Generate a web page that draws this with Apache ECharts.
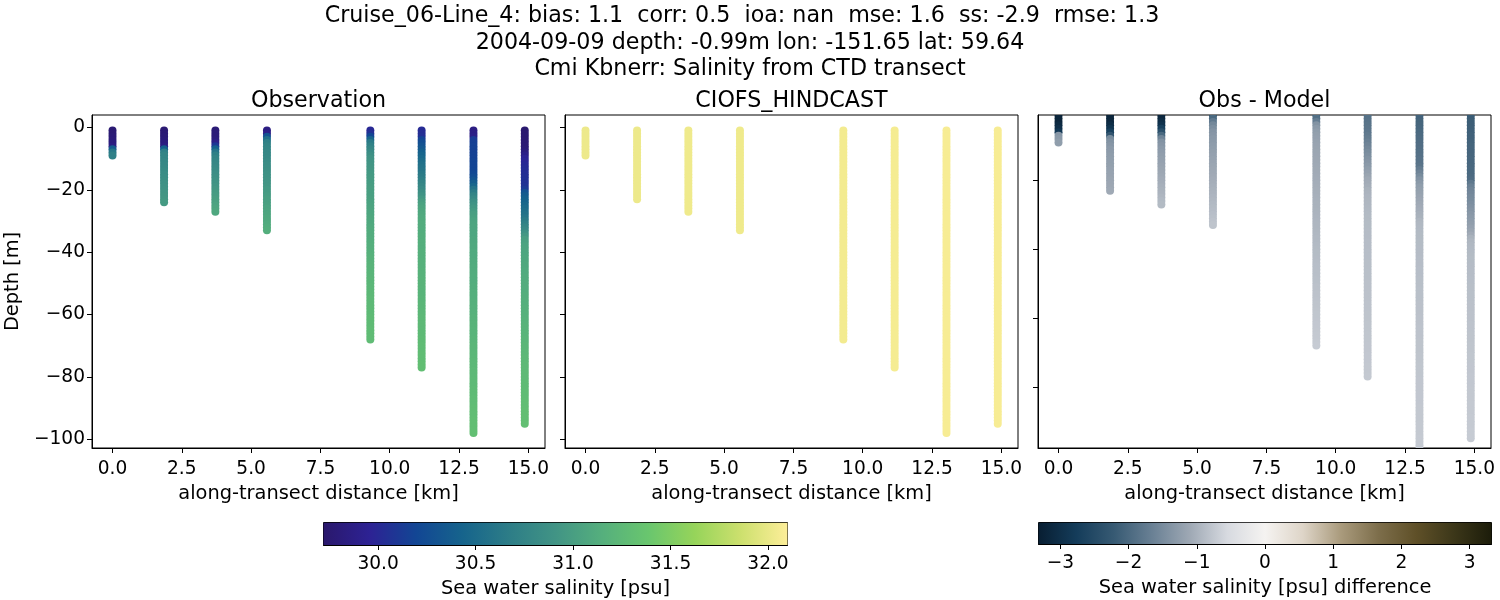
<!DOCTYPE html>
<html><head><meta charset="utf-8">
<style>html,body{margin:0;padding:0;background:#fff}#c{width:1500px;height:600px}</style>
<script src="https://cdn.jsdelivr.net/npm/echarts@6/dist/echarts.min.js"></script>
</head><body><div id="c"></div>
<script>
const distanceKm = [0, 1.86, 3.71, 5.57, 9.3, 11.15, 13.02, 14.87];
const depthsM = [-1,-2,-3,-4,-5,-6,-7,-8,-9,-10,-11,-12,-13,-14,-15,-16,-17,-18,-19,-20,-21,-22,-23,-24,-25,-26,-27,-28,-29,-30,-31,-32,-33,-34,-35,-36,-37,-38,-39,-40,-41,-42,-43,-44,-45,-46,-47,-48,-49,-50,-51,-52,-53,-54,-55,-56,-57,-58,-59,-60,-61,-62,-63,-64,-65,-66,-67,-68,-69,-70,-71,-72,-73,-74,-75,-76,-77,-78,-79,-80,-81,-82,-83,-84,-85,-86,-87,-88,-89,-90,-91,-92,-93,-94,-95,-96,-97,-98];

const obsCast1 = [29.76,29.76,29.78,29.8,29.82,29.85,30.38,30.62,30.7];
const obsCast2 = [29.76,29.77,29.78,29.8,29.82,29.85,30.4,30.7,30.75,30.76,30.78,30.79,30.8,30.82,30.84,30.85,30.86,30.88,30.89,30.9,30.92,30.93,30.94,30.96];
const obsCast3 = [29.78,29.79,29.8,29.82,29.88,30.1,30.4,30.6,30.7,30.74,30.76,30.78,30.8,30.82,30.84,30.86,30.88,30.9,30.92,30.94,30.96,30.98,31,31.02,31.04,31.06,31.08];
const obsCast4 = [29.85,29.88,30.3,30.55,30.7,30.74,30.76,30.78,30.79,30.8,30.82,30.84,30.85,30.86,30.88,30.89,30.9,30.92,30.93,30.95,30.96,30.98,31,31.01,31.02,31.04,31.05,31.06,31.08,31.09,31.1,31.12,31.14];
const obsCast5 = [30,30.05,30.2,30.45,30.65,30.72,30.78,30.82,30.86,30.9,30.91,30.92,30.93,30.94,30.95,30.96,30.97,30.98,30.99,31,31.01,31.01,31.02,31.03,31.04,31.05,31.06,31.07,31.08,31.09,31.09,31.1,31.11,31.12,31.12,31.13,31.14,31.15,31.15,31.16,31.17,31.18,31.18,31.19,31.2,31.2,31.21,31.21,31.22,31.22,31.23,31.23,31.24,31.24,31.25,31.25,31.25,31.26,31.26,31.26,31.27,31.27,31.27,31.27,31.28,31.28,31.28,31.28];
const obsCast6 = [30.02,30.03,30.05,30.18,30.25,30.3,30.35,30.4,30.44,30.48,30.52,30.55,30.58,30.6,30.63,30.66,30.7,30.74,30.78,30.82,30.86,30.9,30.95,31,31.03,31.06,31.08,31.09,31.1,31.11,31.12,31.12,31.13,31.13,31.14,31.14,31.15,31.15,31.15,31.16,31.16,31.16,31.17,31.17,31.17,31.18,31.18,31.18,31.19,31.19,31.19,31.2,31.2,31.2,31.21,31.21,31.22,31.22,31.23,31.23,31.24,31.24,31.25,31.25,31.25,31.26,31.26,31.27,31.27,31.28,31.28,31.28,31.29,31.29,31.29,31.3,31.3];
const obsCast7 = [29.85,29.86,29.88,30.12,30.15,30.16,30.16,30.16,30.17,30.17,30.18,30.18,30.18,30.19,30.2,30.24,30.3,30.38,30.45,30.58,30.66,30.74,30.8,30.86,30.9,30.94,30.97,31,31.02,31.04,31.05,31.06,31.06,31.07,31.07,31.08,31.08,31.09,31.09,31.1,31.1,31.1,31.11,31.11,31.12,31.12,31.12,31.13,31.13,31.13,31.14,31.14,31.15,31.15,31.15,31.16,31.16,31.17,31.17,31.17,31.18,31.18,31.19,31.19,31.2,31.2,31.2,31.21,31.21,31.22,31.22,31.22,31.23,31.23,31.24,31.24,31.24,31.25,31.25,31.25,31.26,31.26,31.26,31.27,31.27,31.27,31.28,31.28,31.28,31.29,31.29,31.29,31.29,31.3,31.3,31.3,31.3,31.31];
const obsCast8 = [29.74,29.74,29.75,29.75,29.76,29.77,29.78,29.82,29.88,29.95,29.98,30,30.02,30.03,30.04,30.05,30.06,30.06,30.07,30.12,30.3,30.36,30.4,30.43,30.46,30.5,30.53,30.56,30.6,30.65,30.7,30.75,30.8,30.88,30.94,31,31.02,31.04,31.05,31.06,31.07,31.08,31.08,31.09,31.09,31.1,31.1,31.11,31.11,31.12,31.12,31.13,31.13,31.14,31.14,31.15,31.15,31.16,31.16,31.17,31.17,31.18,31.18,31.19,31.19,31.2,31.2,31.21,31.21,31.22,31.22,31.23,31.23,31.24,31.24,31.25,31.25,31.25,31.26,31.26,31.26,31.27,31.27,31.27,31.28,31.28,31.28,31.29,31.29,31.29,31.3,31.3,31.3,31.3,31.31];
const obsCasts = [obsCast1,obsCast2,obsCast3,obsCast4,obsCast5,obsCast6,obsCast7,obsCast8];

const modelByCast = [32.02,32.02,32.03,32.03,32.05,32.06,32.07,32.07];
const modelCastPoints = [9,23,27,33,68,77,98,95];

const diffCast1 = [-3.25,-3.2,-3.2,-3.1,-3,-2.85,-1.35,-1.3,-1.25];
const diffCast2 = [-3.25,-3.2,-3.15,-3.05,-2.9,-2.7,-2.3,-1.5,-1.4,-1.35,-1.3,-1.28,-1.26,-1.25,-1.23,-1.22,-1.2,-1.18,-1.17,-1.15,-1.13,-1.12,-1.1];
const diffCast3 = [-3.2,-3.15,-3.05,-2.95,-2.7,-2.4,-2,-1.6,-1.4,-1.35,-1.3,-1.27,-1.24,-1.22,-1.2,-1.17,-1.15,-1.12,-1.1,-1.07,-1.05,-1.02,-1,-0.98,-0.95,-0.92,-0.9];
const diffCast4 = [-2.35,-2,-1.75,-1.55,-1.45,-1.38,-1.35,-1.32,-1.3,-1.27,-1.25,-1.22,-1.2,-1.18,-1.16,-1.14,-1.12,-1.1,-1.08,-1.06,-1.04,-1.02,-1,-0.98,-0.96,-0.94,-0.92,-0.9,-0.88,-0.86,-0.84,-0.82,-0.8];
const diffCast5 = [-2.1,-1.9,-1.7,-1.4,-1.3,-1.25,-1.22,-1.2,-1.18,-1.16,-1.15,-1.14,-1.13,-1.12,-1.11,-1.1,-1.09,-1.08,-1.07,-1.06,-1.05,-1.04,-1.03,-1.03,-1.02,-1.01,-1,-1,-0.99,-0.98,-0.97,-0.96,-0.95,-0.95,-0.94,-0.93,-0.92,-0.92,-0.91,-0.9,-0.89,-0.89,-0.88,-0.87,-0.86,-0.86,-0.85,-0.85,-0.84,-0.84,-0.83,-0.83,-0.82,-0.82,-0.81,-0.8,-0.8,-0.79,-0.78,-0.78,-0.77,-0.76,-0.76,-0.75,-0.74,-0.74,-0.73,-0.72];
const diffCast6 = [-1.9,-1.88,-1.86,-1.84,-1.82,-1.8,-1.76,-1.72,-1.66,-1.6,-1.55,-1.5,-1.45,-1.4,-1.35,-1.3,-1.25,-1.2,-1.15,-1.1,-1.07,-1.04,-1,-0.98,-0.96,-0.95,-0.94,-0.93,-0.92,-0.91,-0.9,-0.9,-0.89,-0.89,-0.88,-0.88,-0.88,-0.87,-0.87,-0.87,-0.86,-0.86,-0.86,-0.85,-0.85,-0.85,-0.84,-0.84,-0.84,-0.83,-0.83,-0.83,-0.82,-0.82,-0.82,-0.81,-0.81,-0.81,-0.8,-0.8,-0.8,-0.79,-0.79,-0.79,-0.78,-0.78,-0.78,-0.77,-0.77,-0.77,-0.76,-0.76,-0.76,-0.75,-0.75,-0.75,-0.74];
const diffCast7 = [-2.1,-2.08,-2.06,-2.04,-2.02,-2,-1.98,-1.96,-1.95,-1.93,-1.92,-1.9,-1.88,-1.86,-1.85,-1.82,-1.72,-1.6,-1.5,-1.4,-1.32,-1.25,-1.22,-1.19,-1.16,-1.13,-1.1,-1.07,-1.05,-1.02,-1,-0.95,-0.93,-0.92,-0.91,-0.9,-0.9,-0.89,-0.89,-0.88,-0.88,-0.88,-0.87,-0.87,-0.87,-0.86,-0.86,-0.86,-0.85,-0.85,-0.85,-0.84,-0.84,-0.84,-0.84,-0.83,-0.83,-0.83,-0.83,-0.82,-0.82,-0.82,-0.81,-0.81,-0.81,-0.81,-0.8,-0.8,-0.8,-0.8,-0.79,-0.79,-0.79,-0.78,-0.78,-0.78,-0.78,-0.77,-0.77,-0.77,-0.77,-0.76,-0.76,-0.76,-0.76,-0.75,-0.75,-0.75,-0.75,-0.75,-0.74,-0.74,-0.74,-0.74,-0.73,-0.73,-0.73,-0.73];
const diffCast8 = [-2.2,-2.18,-2.16,-2.15,-2.14,-2.12,-2.1,-2.1,-2.08,-2.06,-2.05,-2.05,-2.04,-2.03,-2.02,-2.01,-2,-2,-1.98,-1.95,-1.78,-1.66,-1.6,-1.56,-1.52,-1.5,-1.46,-1.42,-1.38,-1.34,-1.3,-1.27,-1.24,-1.2,-1.15,-1.08,-1,-0.95,-0.93,-0.92,-0.91,-0.9,-0.89,-0.89,-0.88,-0.88,-0.87,-0.87,-0.86,-0.86,-0.85,-0.85,-0.84,-0.84,-0.84,-0.83,-0.83,-0.83,-0.82,-0.82,-0.82,-0.81,-0.81,-0.81,-0.8,-0.8,-0.8,-0.79,-0.79,-0.79,-0.78,-0.78,-0.78,-0.77,-0.77,-0.77,-0.76,-0.76,-0.76,-0.76,-0.75,-0.75,-0.75,-0.75,-0.74,-0.74,-0.74,-0.74,-0.73,-0.73,-0.73,-0.73,-0.72,-0.72,-0.72];
const diffCasts = [diffCast1,diffCast2,diffCast3,diffCast4,diffCast5,diffCast6,diffCast7,diffCast8];

const xTicks = [0,2.5,5,7.5,10,12.5,15];
const yTicks = [0,-20,-40,-60,-80,-100];
const salinityTicks = [30,30.5,31,31.5,32];
const diffTicks = [-3,-2,-1,0,1,2,3];
const halineColors = ['#2a186c','#2d2294','#124694','#16648c','#2d7d87','#419485','#55af7d','#69c66e','#96d45a','#cde06e','#fdee99'];
const diffColors = ['#081e32','#143c5a','#375a73','#698094','#9ea8b4','#d7dae0','#f5f3f1','#ded5c8','#aa9b7d','#7d6e4b','#5f5028','#3c3719','#1c1c0a'];
const salinityRange = [29.72, 32.1];
const diffRange = [-3.32, 3.32];
const xRange = [-0.74, 15.6];
const yRangeShared = [-102.8, 4];
const yRangeDiff = [-97.8, -1];
const suptitleLines = [
  'Cruise_06-Line_4: bias: 1.1  corr: 0.5  ioa: nan  mse: 1.6  ss: -2.9  rmse: 1.3',
  '2004-09-09 depth: -0.99m lon: -151.65 lat: 59.64',
  'Cmi Kbnerr: Salinity from CTD transect'
];
const panelTitles = ['Observation','CIOFS_HINDCAST','Obs - Model'];

const FONT = '"DejaVu Sans"';
const TXT = '#000';
const TICK_FS = 18.6, NAME_FS = 19.4, TITLE_FS = 22.2;
const minus = s => String(s).replace('-', '\u2212');
const panelLefts = [92, 565, 1038];
const PW = 453, PT = 115, PH = 333;

function obsPts(){
  const out = [];
  distanceKm.forEach((d, c) => obsCasts[c].forEach((v, i) => out.push([d, depthsM[i], v])));
  return out;
}
function modelPts(){
  const out = [];
  distanceKm.forEach((d, c) => depthsM.slice(0, modelCastPoints[c]).forEach(y => out.push([d, y, modelByCast[c]])));
  return out;
}
function diffPts(){
  const out = [];
  distanceKm.forEach((d, c) => diffCasts[c].forEach((v, i) => out.push([d, depthsM[i], v])));
  return out;
}
const axisLine = {show:true, onZero:false, lineStyle:{color:'#000', width:1}};
const axisTick = v => ({show:true, length:5, lineStyle:{color:'#000', width:1}, customValues:v});

const grids = panelLefts.map(l => ({left:l, top:PT, width:PW, height:PH, show:true, borderColor:'#000', borderWidth:1, backgroundColor:'#fff'}));
grids.push({left:323.5, top:522.5, width:464, height:22.5, show:true, borderColor:'#000', borderWidth:1});
grids.push({left:1038.5, top:522.5, width:453, height:21.5, show:true, borderColor:'#000', borderWidth:1});

const xAxes = panelLefts.map((l,i) => ({
  gridIndex:i, type:'value', min:xRange[0], max:xRange[1],
  name:'along-transect distance [km]', nameLocation:'middle', nameGap:36,
  nameTextStyle:{fontFamily:FONT, fontSize:NAME_FS, color:TXT},
  axisLine, axisTick:axisTick(xTicks), splitLine:{show:false},
  axisLabel:{customValues:xTicks, fontFamily:FONT, fontSize:TICK_FS, color:TXT, margin:12, formatter:v=>Number(v).toFixed(1)}
}));
xAxes.push({gridIndex:3, type:'value', min:salinityRange[0], max:salinityRange[1],
  name:'Sea water salinity [psu]', nameLocation:'middle', nameGap:34,
  nameTextStyle:{fontFamily:FONT, fontSize:NAME_FS, color:TXT},
  axisLine, axisTick:axisTick(salinityTicks), splitLine:{show:false},
  axisLabel:{customValues:salinityTicks, fontFamily:FONT, fontSize:TICK_FS, color:TXT, margin:10, formatter:v=>Number(v).toFixed(1)}});
xAxes.push({gridIndex:4, type:'value', min:diffRange[0], max:diffRange[1],
  name:'Sea water salinity [psu] difference', nameLocation:'middle', nameGap:34,
  nameTextStyle:{fontFamily:FONT, fontSize:NAME_FS, color:TXT},
  axisLine, axisTick:axisTick(diffTicks), splitLine:{show:false},
  axisLabel:{customValues:diffTicks, fontFamily:FONT, fontSize:TICK_FS, color:TXT, margin:10, formatter:v=>minus(v)}});

const yAxes = [0,1,2].map(i => ({
  gridIndex:i, type:'value',
  min:i===2?yRangeDiff[0]:yRangeShared[0], max:i===2?yRangeDiff[1]:yRangeShared[1],
  name:i===0?'Depth [m]':'', nameLocation:'middle', nameGap:70,
  nameTextStyle:{fontFamily:FONT, fontSize:NAME_FS, color:TXT},
  axisLine, axisTick:axisTick(i===2?yTicks.slice(1,5):yTicks), splitLine:{show:false},
  axisLabel:{show:i===0, customValues:yTicks, fontFamily:FONT, fontSize:TICK_FS, color:TXT, margin:7, padding:[7,0,0,0], formatter:v=>minus(v)}
}));
yAxes.push({gridIndex:3,type:'value',min:0,max:1,show:false});
yAxes.push({gridIndex:4,type:'value',min:0,max:1,show:false});

function cbar(idx, range, colors){
  return {type:'custom', xAxisIndex:idx, yAxisIndex:idx, silent:true, clip:true, data:[[range[0],range[1]]],
    encode:{x:[0,1]},
    renderItem:(p, api) => {
      const a = api.coord([api.value(0),1]), b = api.coord([api.value(1),0]);
      const stops = colors.map((c,i)=>({offset:i/(colors.length-1), color:c}));
      return {type:'rect', shape:{x:a[0], y:a[1], width:b[0]-a[0], height:b[1]-a[1]},
        style:{fill:new echarts.graphic.LinearGradient(0,0,1,0,stops)}};
    }};
}
const scatter = (i, data) => ({type:'scatter', xAxisIndex:i, yAxisIndex:i, data, symbolSize:8, clip:true, silent:true, animation:false, itemStyle:{opacity:1}, encode:{x:0,y:1}});
const clippedDots = (i, data) => ({type:'custom', xAxisIndex:i, yAxisIndex:i, data, clip:true, silent:true, animation:false,
  encode:{x:0,y:1},
  renderItem:(p, api) => {
    const c = api.coord([api.value(0), api.value(1)]);
    return {type:'circle', shape:{cx:c[0], cy:c[1], r:4}, style:{fill:api.visual('color')}};
  }});

const titleItems = suptitleLines.map((t,i)=>({text:t, left:i===0?742:750, top:[5,32,58][i], textAlign:'center', padding:0,
  textStyle:{fontFamily:FONT, fontSize:TITLE_FS, fontWeight:'normal', color:TXT}}));
panelTitles.forEach((t,i)=>titleItems.push({text:t, left:panelLefts[i]+PW/2, top:90, textAlign:'center', padding:0,
  textStyle:{fontFamily:FONT, fontSize:TITLE_FS, fontWeight:'normal', color:TXT}}));

const chart = echarts.init(document.getElementById('c'), null, {renderer:'canvas'});
chart.setOption({
  animation:false, backgroundColor:'#fff',
  title:titleItems, grid:grids, xAxis:xAxes, yAxis:yAxes,
  visualMap:[
    {type:'continuous', show:false, seriesIndex:[0,1], dimension:2, min:salinityRange[0], max:salinityRange[1], inRange:{color:halineColors}},
    {type:'continuous', show:false, seriesIndex:[2], dimension:2, min:diffRange[0], max:diffRange[1], inRange:{color:diffColors}}
  ],
  series:[
    scatter(0, obsPts()),
    scatter(1, modelPts()),
    clippedDots(2, diffPts()),
    cbar(3, salinityRange, halineColors),
    cbar(4, diffRange, diffColors)
  ]
});
</script></body></html>
